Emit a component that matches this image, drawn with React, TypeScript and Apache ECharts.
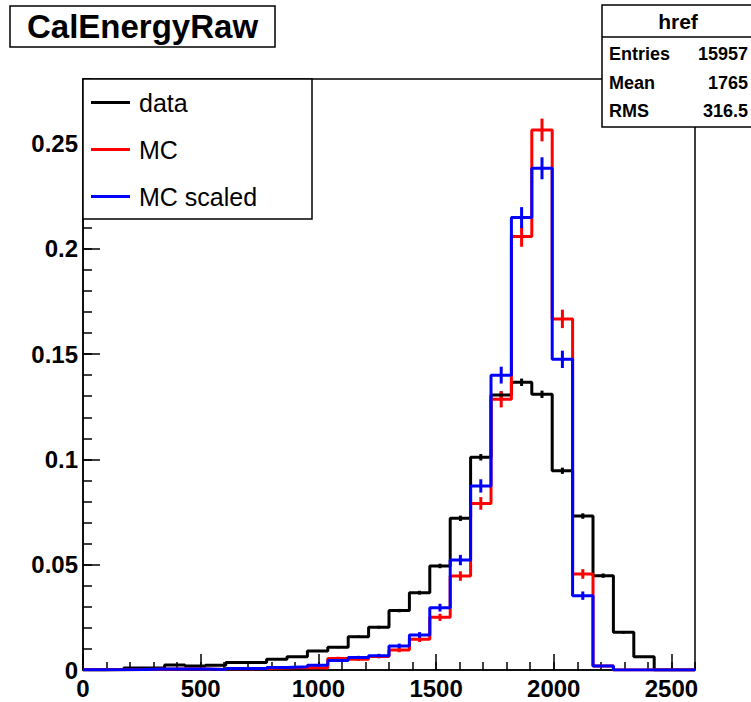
import React, { useEffect, useRef } from "react";
import * as echarts from "echarts";

// ---- data ----
const X_MIN = 0;
const X_MAX = 2600;
const N_BINS = 30;
const Y_MAX = 0.2806;

const seriesNames = ["data", "MC", "MC scaled"];
const seriesColors = ["#000000", "#ff0000", "#0000ff"];

const dataValues = [
  0, 0.0002, 0.001, 0.0011, 0.0024, 0.0019, 0.0023, 0.0036, 0.0036, 0.0051,
  0.0063, 0.009, 0.0108, 0.0158, 0.0203, 0.0282, 0.0367, 0.0494, 0.072, 0.101,
  0.1306, 0.1366, 0.1309, 0.0946, 0.0731, 0.0448, 0.0179, 0.0063, 0, 0,
];
const dataErrors = [
  0, 0.0001, 0.00015, 0.00016, 0.00024, 0.00021, 0.00023, 0.00029, 0.00029, 0.00034,
  0.00038, 0.00046, 0.0005, 0.0006, 0.00068, 0.0008, 0.00092, 0.00107, 0.00129, 0.00153,
  0.00173, 0.00177, 0.00174, 0.00148, 0.0013, 0.00102, 0.00064, 0.00038, 0, 0,
];
const mcValues = [
  0.0001, 0.0001, 0.0002, 0.0004, 0.0005, 0.0005, 0.0002, 0.0006, 0.0007, 0.0009,
  0.0012, 0.001, 0.0055, 0.0051, 0.0064, 0.0095, 0.0146, 0.025, 0.0446, 0.0791,
  0.1285, 0.2058, 0.2564, 0.1667, 0.0456, 0.0019, 0, 0, 0, 0,
];
const mcErrors = [
  0.0001, 0.0001, 0.00015, 0.0002, 0.00024, 0.00024, 0.00015, 0.00026, 0.00028, 0.00032,
  0.00037, 0.00034, 0.0008, 0.00076, 0.00086, 0.00104, 0.0013, 0.0017, 0.00226, 0.003,
  0.00384, 0.00485, 0.0054, 0.00437, 0.00228, 0.00047, 0, 0, 0, 0,
];
const mcScaledValues = [
  0.0001, 0.0001, 0.0002, 0.0005, 0.0005, 0.0005, 0.0002, 0.0007, 0.0007, 0.0012,
  0.0015, 0.0022, 0.0045, 0.0059, 0.0068, 0.0114, 0.0166, 0.0296, 0.0522, 0.0874,
  0.14, 0.2148, 0.2382, 0.1475, 0.0353, 0.0019, 0, 0, 0, 0,
];
const mcScaledErrors = [
  0.0001, 0.0001, 0.00015, 0.00024, 0.00024, 0.00024, 0.00015, 0.00028, 0.00028, 0.00037,
  0.00041, 0.0005, 0.00072, 0.00082, 0.00088, 0.00114, 0.00138, 0.00184, 0.00244, 0.00316,
  0.004, 0.00496, 0.00522, 0.00411, 0.002, 0.00047, 0, 0, 0, 0,
];

const titleText = "CalEnergyRaw";
const statsTitle = "href";
const statsLabels = ["Entries", "Mean", "RMS"];
const statsValues = ["15957", "1765", "316.5"];

// ---- helpers ----
const FONT = "Liberation Sans, Arial, Helvetica, sans-serif";
const binWidth = (X_MAX - X_MIN) / N_BINS;

function stepData(values: number[]) {
  const pts: number[][] = values.map((v, i) => [X_MIN + i * binWidth, v]);
  pts.push([X_MAX, values[values.length - 1]]);
  return pts;
}
function errData(values: number[], errs: number[]) {
  return values.map((v, i) => [X_MIN + (i + 0.5) * binWidth, v, errs[i]]);
}

function lineSeries(name: string, color: string, values: number[]) {
  return {
    type: "line",
    name,
    step: "end",
    data: stepData(values),
    symbol: "none",
    showSymbol: false,
    lineStyle: { color, width: 3 },
    itemStyle: { color },
    z: 2,
  };
}
function errSeries(name: string, color: string, values: number[], errs: number[]) {
  return {
    type: "custom",
    name: name + " errors",
    data: errData(values, errs),
    encode: { x: 0, y: 1 },
    z: 2,
    renderItem: (params: any, api: any) => {
      const x = api.value(0);
      const y = api.value(1);
      const e = api.value(2);
      if (!(e > 0)) return null;
      const p1 = api.coord([x, y - e]);
      const p2 = api.coord([x, y + e]);
      return {
        type: "line",
        shape: { x1: p1[0], y1: p1[1], x2: p2[0], y2: p2[1] },
        style: { stroke: color, lineWidth: 3 },
      };
    },
  };
}

const axisLabelStyle = {
  color: "#000",
  fontSize: 24,
  fontWeight: "bold",
  fontFamily: FONT,
};

const option: any = {
  animation: false,
  backgroundColor: "#ffffff",
  title: {
    text: titleText,
    left: 10,
    top: 6,
    padding: [4, 17, 4, 17],
    borderColor: "#000",
    borderWidth: 1.5,
    backgroundColor: "#fff",
    textStyle: { fontSize: 33, fontWeight: "bold", fontFamily: FONT, color: "#000" },
  },
  grid: {
    left: 83,
    right: 56,
    top: 79,
    bottom: 32,
    show: true,
    borderColor: "#000",
    borderWidth: 1.5,
    backgroundColor: "transparent",
  },
  legend: {
    data: seriesNames,
    orient: "vertical",
    left: 91,
    top: 90,
    icon: "rect",
    itemWidth: 39,
    itemHeight: 3,
    itemGap: 22,
    padding: 0,
    selectedMode: false,
    z: 10,
    textStyle: {
      fontSize: 25,
      fontFamily: FONT,
      color: "#000",
      padding: [0, 0, 0, 4],
      lineHeight: 25,
    },
  },
  xAxis: [
    {
      type: "value",
      min: X_MIN,
      max: X_MAX,
      interval: 500,
      axisLine: { show: true, onZero: false, lineStyle: { color: "#000", width: 1.5 } },
      axisTick: { show: true, inside: true, length: 16, lineStyle: { color: "#000", width: 1.5 } },
      splitLine: { show: false },
      axisLabel: {
        ...axisLabelStyle,
        margin: 6,
        showMaxLabel: false,
        formatter: (v: number) => String(v),
      },
    },
    {
      type: "value",
      min: X_MIN,
      max: X_MAX,
      interval: 100,
      position: "bottom",
      axisLine: { show: false },
      axisTick: { show: true, inside: true, length: 8, lineStyle: { color: "#000", width: 1.5 } },
      splitLine: { show: false },
      axisLabel: { show: false },
    },
  ],
  yAxis: [
    {
      type: "value",
      min: 0,
      max: Y_MAX,
      interval: 0.05,
      axisLine: { show: true, onZero: false, lineStyle: { color: "#000", width: 1.5 } },
      axisTick: { show: true, inside: true, length: 17, lineStyle: { color: "#000", width: 1.5 } },
      splitLine: { show: false },
      axisLabel: {
        ...axisLabelStyle,
        margin: 5,
        showMaxLabel: false,
        padding: [8, 0, 0, 0],
        formatter: (v: number) => String(Math.round(v * 1000) / 1000),
      },
    },
    {
      type: "value",
      min: 0,
      max: Y_MAX,
      interval: 0.01,
      position: "left",
      axisLine: { show: false },
      axisTick: { show: true, inside: true, length: 9, lineStyle: { color: "#000", width: 1.5 } },
      splitLine: { show: false },
      axisLabel: { show: false },
    },
  ],
  graphic: [
    {
      type: "rect",
      z: 9,
      shape: { x: 83, y: 79, width: 229, height: 140 },
      style: { fill: "#fff", stroke: "#000", lineWidth: 1.5 },
    },
    {
      type: "group",
      z: 11,
      children: [
        {
          type: "rect",
          shape: { x: 602, y: 5, width: 170, height: 122 },
          style: { fill: "#fff", stroke: "#000", lineWidth: 1.5 },
        },
        {
          type: "line",
          shape: { x1: 602, y1: 37, x2: 772, y2: 37 },
          style: { stroke: "#000", lineWidth: 1.5 },
        },
        {
          type: "text",
          x: 678,
          y: 21,
          style: {
            text: statsTitle,
            fontSize: 21,
            fontWeight: "bold",
            fontFamily: FONT,
            fill: "#000",
            align: "center",
            verticalAlign: "middle",
          },
        },
        ...statsLabels.map((lab, i) => ({
          type: "text",
          x: 609,
          y: 54 + i * 28.5,
          style: {
            text: lab,
            fontSize: 18,
            fontWeight: "bold",
            fontFamily: FONT,
            fill: "#000",
            align: "left",
            verticalAlign: "middle",
          },
        })),
        ...statsValues.map((val, i) => ({
          type: "text",
          x: 748,
          y: 54 + i * 28.5,
          style: {
            text: val,
            fontSize: 18,
            fontWeight: "bold",
            fontFamily: FONT,
            fill: "#000",
            align: "right",
            verticalAlign: "middle",
          },
        })),
      ],
    },
  ],
  series: [
    lineSeries(seriesNames[0], seriesColors[0], dataValues),
    errSeries(seriesNames[0], seriesColors[0], dataValues, dataErrors),
    lineSeries(seriesNames[1], seriesColors[1], mcValues),
    errSeries(seriesNames[1], seriesColors[1], mcValues, mcErrors),
    lineSeries(seriesNames[2], seriesColors[2], mcScaledValues),
    errSeries(seriesNames[2], seriesColors[2], mcScaledValues, mcScaledErrors),
  ],
};

export default function App() {
  const ref = useRef<HTMLDivElement>(null);
  useEffect(() => {
    if (!ref.current) return;
    const chart = echarts.init(ref.current, null, { renderer: "svg" });
    chart.setOption(option);
    return () => chart.dispose();
  }, []);
  return (
    <div
      ref={ref}
      style={{ position: "absolute", left: 0, top: 0, width: 751, height: 702, background: "#fff" }}
    />
  );
}
